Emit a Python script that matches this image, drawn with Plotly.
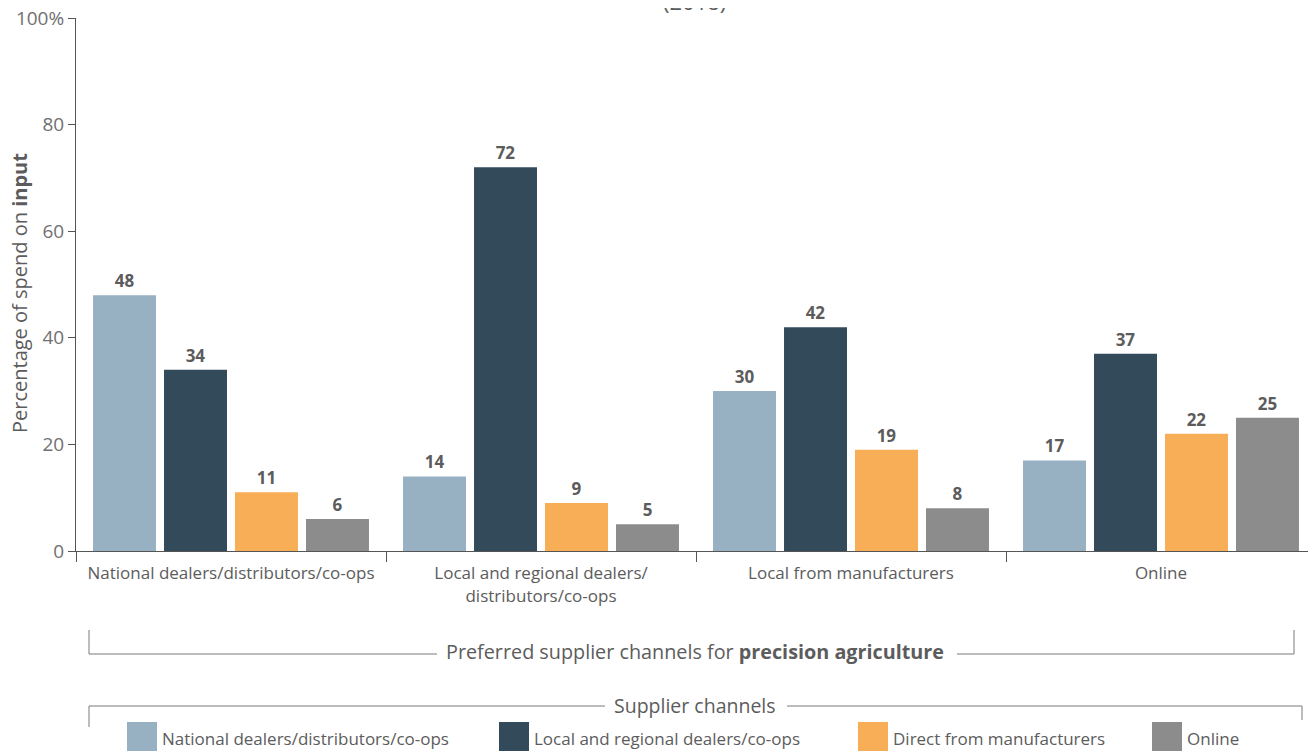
import plotly.graph_objects as go

# ---- data ----
categories = ["National dealers/distributors/co-ops",
              "Local and regional dealers/<br>distributors/co-ops",
              "Local from manufacturers",
              "Online"]
series_names = ["National dealers/distributors/co-ops",
                "Local and regional dealers/co-ops",
                "Direct from manufacturers",
                "Online"]
national = [48, 14, 30, 17]
local_regional = [34, 72, 42, 37]
direct = [11, 9, 19, 22]
online = [6, 5, 8, 25]
y_tickvals = [0, 20, 40, 60, 80, 100]
y_ticktext = ["0", "20", "40", "60", "80", "100%"]

colors = ["#97B1C3", "#334A5A", "#F8AE57", "#8C8C8C"]
series_values = [national, local_regional, direct, online]

# page has an 8px body margin; the figure fills the rest of the window
OFF = 8
W, H = 1316 - OFF, 751 - OFF
ML, MR, MT, MB = 76 - OFF, 0, 18 - OFF, 200
PW, PH = W - ML - MR, H - MT - MB

def px(x):  # window pixel -> paper
    return (x - OFF - ML) / PW

def py(y):  # window pixel -> paper
    return (H - MB - (y - OFF)) / PH

FONT = "Open Sans"
TXT = "#5c5c5c"
LINE = "#7a7a7a"

fig = go.Figure()
for name, vals, col in zip(series_names, series_values, colors):
    fig.add_trace(go.Bar(
        x=categories, y=vals, name=name, marker_color=col,
        marker_line_width=0,
        text=vals, texttemplate="<b>%{y}</b>", textposition="outside",
        textfont=dict(family=FONT, size=17, color=TXT),
        cliponaxis=False, showlegend=False))

shapes = []
annotations = []

# title remnant (cut by the top edge, as in the source)
annotations.append(dict(text="(2018)", xref="paper", yref="paper",
                        x=px(694), y=py(1), xanchor="center", yanchor="middle",
                        showarrow=False, font=dict(family=FONT, size=22, color=TXT)))

# bracket 1
for (x0, y0, x1, y1) in [(89, 630, 89, 654), (89, 654, 437, 654),
                         (957, 654, 1294, 654), (1294, 654, 1294, 630)]:
    shapes.append(dict(type="line", xref="paper", yref="paper",
                       x0=px(x0), y0=py(y0), x1=px(x1), y1=py(y1),
                       line=dict(color=LINE, width=1)))
annotations.append(dict(text="Preferred supplier channels for <b>precision agriculture</b>",
                        xref="paper", yref="paper", x=px(695), y=py(651),
                        xanchor="center", yanchor="middle", showarrow=False,
                        font=dict(family=FONT, size=19.8, color=TXT)))

# bracket 2 (legend)
for (x0, y0, x1, y1) in [(89, 727, 89, 706), (89, 706, 605, 706),
                         (787, 706, 1302, 706), (1302, 706, 1302, 720)]:
    shapes.append(dict(type="line", xref="paper", yref="paper",
                       x0=px(x0), y0=py(y0), x1=px(x1), y1=py(y1),
                       line=dict(color=LINE, width=1)))
annotations.append(dict(text="Supplier channels", xref="paper", yref="paper",
                        x=px(695), y=py(705), xanchor="center", yanchor="middle",
                        showarrow=False, font=dict(family=FONT, size=19.5, color=TXT)))

# manual legend
leg_x = [127, 499, 858, 1152]
for lx, name, col in zip(leg_x, series_names, colors):
    shapes.append(dict(type="rect", xref="paper", yref="paper",
                       x0=px(lx), x1=px(lx + 30), y0=py(753), y1=py(722),
                       fillcolor=col, line=dict(width=0)))
    annotations.append(dict(text=name, xref="paper", yref="paper",
                            x=px(lx + 33), y=py(738), xanchor="left", yanchor="middle",
                            showarrow=False, font=dict(family=FONT, size=17, color=TXT)))

# y-axis title
annotations.append(dict(text="Percentage of spend on <b>input</b>", xref="paper", yref="paper",
                        x=px(19), y=py(293), xanchor="center", yanchor="middle",
                        textangle=-90, showarrow=False,
                        font=dict(family=FONT, size=20, color=TXT)))

fig.update_layout(
    width=W, height=H,
    margin=dict(l=ML, r=MR, t=MT, b=MB, autoexpand=False),
    paper_bgcolor="white", plot_bgcolor="white",
    barmode="group", bargap=0.084, bargroupgap=0.113,
    font=dict(family=FONT, color=TXT),
    shapes=shapes, annotations=annotations,
    showlegend=False,
)
fig.update_xaxes(
    automargin=False,
    showline=True, linecolor="#555555", linewidth=1,
    ticks="outside", tickson="boundaries", ticklen=10, tickcolor="#555555",
    ticklabelstandoff=7,
    tickfont=dict(family=FONT, size=17, color=TXT),
    showgrid=False, zeroline=False,
)
fig.update_yaxes(
    automargin=False, ticklabeloverflow="allow",
    range=[0, 100], tickvals=y_tickvals, ticktext=y_ticktext,
    showline=True, linecolor="#555555", linewidth=1,
    ticks="outside", ticklen=7, tickcolor="#555555",
    tickfont=dict(family=FONT, size=19, color="#707070"),
    showgrid=False, zeroline=False,
)

fig.write_html("out.html")
